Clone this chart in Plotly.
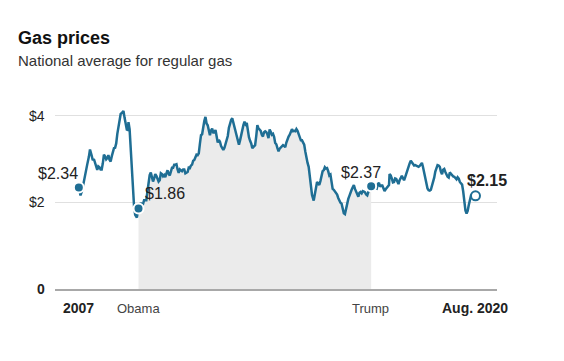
import plotly.graph_objects as go

# Weekly-ish national average regular gas price readings (USD/gallon)
dates = [
    "2007-01-01","2007-01-22","2007-02-12","2007-03-05","2007-03-26","2007-04-16","2007-05-07","2007-05-21",
    "2007-06-11","2007-06-25","2007-07-09","2007-07-23","2007-08-06","2007-08-20","2007-09-03","2007-09-17",
    "2007-10-01","2007-10-15","2007-10-29","2007-11-12","2007-11-26","2007-12-10","2007-12-24",
    "2008-01-07","2008-01-21","2008-02-04","2008-02-18","2008-03-03","2008-03-17","2008-03-31","2008-04-14",
    "2008-04-28","2008-05-12","2008-05-26","2008-06-09","2008-06-23","2008-07-07","2008-07-14","2008-07-28",
    "2008-08-11","2008-08-25","2008-09-08","2008-09-15","2008-09-29","2008-10-13","2008-10-27","2008-11-10",
    "2008-11-24","2008-12-08","2008-12-29",
    "2009-01-19","2009-02-02","2009-02-16","2009-03-02","2009-03-16","2009-03-30","2009-04-13","2009-04-27",
    "2009-05-11","2009-05-25","2009-06-08","2009-06-22","2009-07-06","2009-07-20","2009-08-03","2009-08-17",
    "2009-08-31","2009-09-14","2009-09-28","2009-10-12","2009-10-26","2009-11-09","2009-11-23","2009-12-07",
    "2009-12-21",
    "2010-01-04","2010-01-18","2010-02-01","2010-02-15","2010-03-01","2010-03-15","2010-03-29","2010-04-12",
    "2010-04-26","2010-05-10","2010-05-24","2010-06-07","2010-06-21","2010-07-05","2010-07-19","2010-08-02",
    "2010-08-16","2010-08-30","2010-09-13","2010-09-27","2010-10-11","2010-10-25","2010-11-08","2010-11-22",
    "2010-12-06","2010-12-20",
    "2011-01-03","2011-01-17","2011-01-31","2011-02-14","2011-02-28","2011-03-14","2011-03-28","2011-04-11",
    "2011-04-25","2011-05-09","2011-05-23","2011-06-06","2011-06-20","2011-07-04","2011-07-18","2011-08-01",
    "2011-08-15","2011-08-29","2011-09-12","2011-09-26","2011-10-10","2011-10-24","2011-11-07","2011-11-21",
    "2011-12-05","2011-12-19",
    "2012-01-02","2012-01-16","2012-01-30","2012-02-13","2012-02-27","2012-03-12","2012-03-26","2012-04-09",
    "2012-04-23","2012-05-07","2012-05-21","2012-06-04","2012-06-18","2012-07-02","2012-07-16","2012-07-30",
    "2012-08-13","2012-08-27","2012-09-10","2012-09-24","2012-10-08","2012-10-22","2012-11-05","2012-11-19",
    "2012-12-03","2012-12-17",
    "2013-01-07","2013-01-21","2013-02-04","2013-02-18","2013-03-04","2013-03-18","2013-04-01","2013-04-15",
    "2013-04-29","2013-05-13","2013-05-27","2013-06-10","2013-06-24","2013-07-08","2013-07-22","2013-08-05",
    "2013-08-19","2013-09-02","2013-09-16","2013-09-30","2013-10-14","2013-10-28","2013-11-11","2013-11-25",
    "2013-12-09","2013-12-23",
    "2014-01-06","2014-01-20","2014-02-03","2014-02-17","2014-03-03","2014-03-17","2014-03-31","2014-04-14",
    "2014-04-28","2014-05-12","2014-05-26","2014-06-09","2014-06-23","2014-07-07","2014-07-21","2014-08-04",
    "2014-08-18","2014-09-01","2014-09-15","2014-09-29","2014-10-13","2014-10-27","2014-11-10","2014-11-24",
    "2014-12-08","2014-12-22",
    "2015-01-05","2015-01-26","2015-02-09","2015-02-23","2015-03-09","2015-03-23","2015-04-06","2015-04-20",
    "2015-05-04","2015-05-18","2015-06-01","2015-06-15","2015-06-29","2015-07-13","2015-07-27","2015-08-10",
    "2015-08-24","2015-09-07","2015-09-21","2015-10-05","2015-10-19","2015-11-02","2015-11-16","2015-11-30",
    "2015-12-14","2015-12-28",
    "2016-01-11","2016-01-25","2016-02-08","2016-02-22","2016-03-07","2016-03-21","2016-04-04","2016-04-18",
    "2016-05-02","2016-05-16","2016-05-30","2016-06-13","2016-06-27","2016-07-11","2016-07-25","2016-08-08",
    "2016-08-22","2016-09-05","2016-09-19","2016-10-03","2016-10-17","2016-10-31","2016-11-14","2016-11-28",
    "2016-12-12","2016-12-26",
    "2017-01-16","2017-01-30","2017-02-13","2017-02-27","2017-03-13","2017-03-27","2017-04-10","2017-04-24",
    "2017-05-08","2017-05-22","2017-06-05","2017-06-19","2017-07-03","2017-07-17","2017-07-31","2017-08-14",
    "2017-08-28","2017-09-04","2017-09-18","2017-10-02","2017-10-16","2017-10-30","2017-11-13","2017-11-27",
    "2017-12-11","2017-12-25",
    "2018-01-08","2018-01-22","2018-02-05","2018-02-19","2018-03-05","2018-03-19","2018-04-02","2018-04-16",
    "2018-04-30","2018-05-14","2018-05-28","2018-06-11","2018-06-25","2018-07-09","2018-07-23","2018-08-06",
    "2018-08-20","2018-09-03","2018-09-17","2018-10-01","2018-10-15","2018-10-29","2018-11-12","2018-11-26",
    "2018-12-10","2018-12-24",
    "2019-01-07","2019-01-21","2019-02-04","2019-02-18","2019-03-04","2019-03-18","2019-04-01","2019-04-15",
    "2019-04-29","2019-05-13","2019-05-27","2019-06-10","2019-06-24","2019-07-08","2019-07-22","2019-08-05",
    "2019-08-19","2019-09-02","2019-09-16","2019-09-30","2019-10-14","2019-10-28","2019-11-11","2019-11-25",
    "2019-12-09","2019-12-23",
    "2020-01-06","2020-01-20","2020-02-03","2020-02-17","2020-03-02","2020-03-16","2020-03-30","2020-04-13",
    "2020-04-27","2020-05-11","2020-05-25","2020-06-08","2020-06-22","2020-07-06","2020-07-20","2020-08-03",
    "2020-08-17",
]

prices = [
    2.34, 2.16, 2.28, 2.50, 2.71, 2.87, 3.05, 3.22,
    3.08, 2.97, 3.00, 2.92, 2.86, 2.75, 2.83, 2.81,
    2.76, 2.76, 2.90, 3.10, 3.06, 2.99, 3.02,
    3.09, 2.98, 2.94, 3.06, 3.17, 3.25, 3.26, 3.36,
    3.58, 3.72, 3.93, 4.04, 4.06, 4.10, 4.11, 3.95,
    3.78, 3.68, 3.67, 3.85, 3.69, 3.23, 2.76, 2.26,
    1.91, 1.71, 1.65,
    1.86, 1.90, 1.99, 1.93, 1.96, 2.05, 2.05, 2.05,
    2.25, 2.45, 2.63, 2.69, 2.59, 2.48, 2.55, 2.65,
    2.61, 2.55, 2.48, 2.51, 2.67, 2.65, 2.60, 2.63,
    2.58,
    2.67, 2.74, 2.66, 2.62, 2.71, 2.80, 2.80, 2.87,
    2.87, 2.88, 2.76, 2.68, 2.76, 2.73, 2.72, 2.76,
    2.76, 2.67, 2.69, 2.70, 2.80, 2.79, 2.85, 2.87,
    2.96, 2.98,
    3.04, 3.10, 3.09, 3.13, 3.35, 3.55, 3.57, 3.77,
    3.88, 3.97, 3.82, 3.78, 3.62, 3.55, 3.66, 3.70,
    3.61, 3.61, 3.67, 3.47, 3.38, 3.44, 3.40, 3.30,
    3.26, 3.21,
    3.26, 3.37, 3.44, 3.53, 3.72, 3.83, 3.90, 3.94,
    3.84, 3.76, 3.67, 3.58, 3.45, 3.33, 3.43, 3.56,
    3.71, 3.78, 3.86, 3.80, 3.83, 3.63, 3.50, 3.42,
    3.36, 3.25,
    3.30, 3.32, 3.53, 3.78, 3.71, 3.69, 3.65, 3.56,
    3.52, 3.62, 3.64, 3.62, 3.57, 3.48, 3.68, 3.63,
    3.56, 3.58, 3.51, 3.37, 3.34, 3.25, 3.18, 3.24,
    3.26, 3.28,
    3.32, 3.30, 3.27, 3.38, 3.48, 3.52, 3.56, 3.62,
    3.69, 3.64, 3.65, 3.64, 3.69, 3.65, 3.56, 3.49,
    3.43, 3.43, 3.39, 3.33, 3.17, 3.01, 2.91, 2.82,
    2.62, 2.37,
    2.17, 2.04, 2.18, 2.37, 2.47, 2.44, 2.40, 2.49,
    2.62, 2.72, 2.74, 2.81, 2.78, 2.79, 2.72, 2.62,
    2.64, 2.42, 2.31, 2.29, 2.25, 2.22, 2.18, 2.10,
    2.04, 1.99,
    1.97, 1.84, 1.75, 1.73, 1.85, 2.01, 2.08, 2.15,
    2.25, 2.29, 2.35, 2.40, 2.31, 2.24, 2.17, 2.13,
    2.22, 2.24, 2.21, 2.26, 2.25, 2.23, 2.18, 2.16,
    2.24, 2.30,
    2.37, 2.31, 2.31, 2.31, 2.33, 2.32, 2.42, 2.45,
    2.36, 2.39, 2.39, 2.30, 2.26, 2.30, 2.33, 2.38,
    2.40, 2.65, 2.62, 2.55, 2.46, 2.47, 2.55, 2.54,
    2.47, 2.42,
    2.51, 2.57, 2.61, 2.56, 2.51, 2.58, 2.67, 2.75,
    2.83, 2.90, 2.96, 2.92, 2.86, 2.85, 2.86, 2.84,
    2.84, 2.82, 2.84, 2.87, 2.91, 2.81, 2.70, 2.56,
    2.41, 2.32,
    2.28, 2.27, 2.29, 2.37, 2.45, 2.57, 2.71, 2.80,
    2.86, 2.85, 2.82, 2.71, 2.65, 2.75, 2.77, 2.70,
    2.62, 2.59, 2.57, 2.69, 2.66, 2.62, 2.60, 2.59,
    2.57, 2.53,
    2.58, 2.55, 2.47, 2.45, 2.41, 2.25, 2.00, 1.81,
    1.74, 1.80, 1.94, 2.07, 2.16, 2.17, 2.18, 2.15,
    2.15,
]

obama_start = "2009-01-19"
trump_start = "2017-01-16"
highlight_dates = ["2007-01-01", "2009-01-19", "2017-01-16", "2020-08-17"]
highlight_labels = ["$2.34", "$1.86", "$2.37", "<b>$2.15</b>"]
y_ticks = [0, 2, 4]
y_tick_labels = ["<b>0</b>", "$2", "$4"]
x_label_dates = ["2007-01-01", "2009-01-20", "2017-01-10", "2020-08-17"]
x_label_texts = ["<b>2007</b>", "Obama", "Trump", "<b>Aug. 2020</b>"]

BLUE = "#1f6e94"
FONT = "Liberation Sans, Arial, sans-serif"

i0 = dates.index(obama_start)
i1 = dates.index(trump_start)

fig = go.Figure()
# Obama-era shading under the line
fig.add_trace(go.Scatter(
    x=dates[i0:i1 + 1], y=prices[i0:i1 + 1], mode="lines",
    line=dict(width=0, color="#ebebeb"), fill="tozeroy", fillcolor="#ebebeb",
    hoverinfo="skip", showlegend=False,
))
fig.add_trace(go.Scatter(
    x=dates, y=prices, mode="lines",
    line=dict(color=BLUE, width=2.5), showlegend=False,
))
hl_idx = [dates.index(d) for d in highlight_dates]
fig.add_trace(go.Scatter(
    x=[dates[i] for i in hl_idx[:3]], y=[prices[i] for i in hl_idx[:3]], mode="markers",
    marker=dict(size=10, color=BLUE, line=dict(color="white", width=2)), showlegend=False,
))
fig.add_trace(go.Scatter(
    x=[dates[hl_idx[3]]], y=[prices[hl_idx[3]]], mode="markers",
    marker=dict(size=9, color="white", line=dict(color=BLUE, width=2)), showlegend=False,
))

# The page body has an 8px margin; work in window pixels and offset.
OFF = 8
W, H = 564 - OFF, 361 - OFF
PL, PR, PT, PB = 55, 497, 107.35, 289  # plot area in window pixels
L, T = PL - OFF, PT - OFF
R = W - (PR - OFF)
B = H - (PB - OFF)
pw, ph = PR - PL, PB - PT

def py(Y):
    return (PB - Y) / ph

def px(X):
    return (X - PL) / pw

ann = []
ann.append(dict(text="<b>Gas prices</b>", x=px(16), y=py(38), xref="paper", yref="paper",
                xanchor="left", yanchor="middle", showarrow=False,
                font=dict(size=18, color="#111111", family=FONT)))
ann.append(dict(text="National average for regular gas", x=px(16), y=py(61), xref="paper", yref="paper",
                xanchor="left", yanchor="middle", showarrow=False,
                font=dict(size=15, color="#333333", family=FONT)))
for v, t in zip(y_ticks, y_tick_labels):
    ann.append(dict(text=t, x=0, y=v, xref="paper", yref="y", xanchor="right", yanchor="middle",
                    xshift=-8, showarrow=False, font=dict(size=14, color="#222222", family=FONT)))
for d, t in zip(x_label_dates, x_label_texts):
    bold = t.startswith("<b>")
    ann.append(dict(text=t, x=d, y=py(308), xref="x", yref="paper", xanchor="center", yanchor="middle",
                    showarrow=False,
                    font=dict(size=14 if bold else 13, color="#222222" if bold else "#444444", family=FONT)))
shifts = [(-20.5, 14.5), (26.5, 15), (-10, 14), (12, 15)]
for i, t, (sx, sy) in zip(hl_idx, highlight_labels, shifts):
    ann.append(dict(text=t, x=dates[i], y=prices[i], xref="x", yref="y", xanchor="center", yanchor="middle",
                    xshift=sx, yshift=sy, showarrow=False,
                    font=dict(size=16, color="#222222", family=FONT)))

fig.update_layout(
    width=W, height=H, margin=dict(l=L, r=R, t=T, b=B, pad=0),
    paper_bgcolor="white", plot_bgcolor="white",
    annotations=ann,
    xaxis=dict(type="date", range=["2006-03-08", "2021-05-14"], showgrid=False, showticklabels=False,
               zeroline=False, showline=True, linecolor="#a8a8a8", linewidth=1.5, layer="above traces",
               fixedrange=True),
    yaxis=dict(range=[0, (PB - PT) / 43.25], tickvals=[2, 4], showticklabels=False, showgrid=True,
               gridcolor="#e0e0e0", gridwidth=1, zeroline=False, fixedrange=True),
    font=dict(family=FONT),
)

fig.write_html("out.html")
